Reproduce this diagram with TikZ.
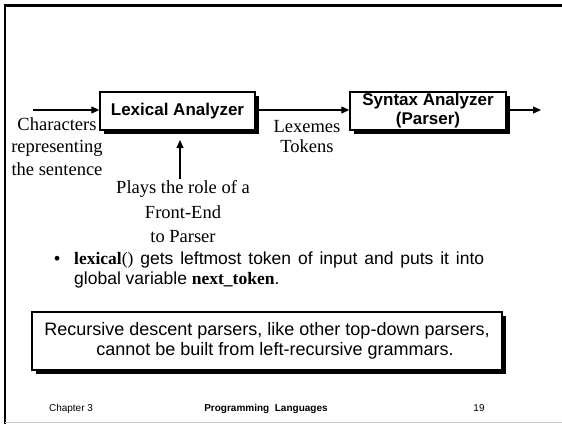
\documentclass[tikz,border=0pt]{standalone}
\usepackage{fontspec}
\setmainfont{Liberation Serif}
\setsansfont{Liberation Sans}
\usetikzlibrary{arrows.meta,shadows}
\begin{document}
\begin{tikzpicture}[x=1pt,y=-1pt,
  procbox/.style={draw,line width=1.4pt,fill=white,minimum height=38pt,inner sep=0pt,
    font=\sffamily\bfseries\fontsize{17}{19}\selectfont,align=center,
    drop shadow={shadow xshift=3.5pt,shadow yshift=-3.5pt,fill=black,opacity=1}},
  lbl/.style={font=\rmfamily\fontsize{18.5}{22.5}\selectfont,align=center,inner sep=0pt},
  flow/.style={line width=1.2pt,-{Triangle[length=8pt,width=7pt]}},
  btxt/.style={font=\sffamily\fontsize{17.5}{20}\selectfont,anchor=base west,inner sep=0pt},
  foot/.style={font=\sffamily\fontsize{10}{12}\selectfont,anchor=base,inner sep=0pt}]
\fill[white] (0,0) rectangle (562,424);
\useasboundingbox (0,0) rectangle (562,424);
% slide frame
\fill[black] (3.8,4.2) rectangle (562,6.8);
\fill[black] (3.8,4.2) rectangle (6.4,424);
\draw[gray!40,line width=1pt] (5,422) -- (562,422);

\node[procbox,minimum width=155pt] (lex) at (177.5,111) {Lexical Analyzer};
\node[procbox,minimum width=156pt] (syn) at (428,111) {Syntax Analyzer\\(Parser)};

\coordinate (in) at (33,110);
\coordinate (out) at (541,110);
\coordinate (up) at (180,140);

\draw[flow] (in) -- (lex.west |- in);
\draw[flow] (lex.east |- in) -- (syn.west |- in);
\draw[flow] (syn.east |- out) -- (out);

\node[lbl] (chars) at (57,146.5) {Characters\\representing\\the sentence};
\node[lbl,font=\rmfamily\fontsize{18.5}{20}\selectfont] (lexemes) at (307,137) {Lexemes\\Tokens};
\node[lbl,font=\rmfamily\fontsize{18.5}{24.5}\selectfont] (plays) at (183,212) {Plays the role of a\\Front-End\\to Parser};
\draw[flow] (plays.north -| up) ++(0,-2) -- (up);

\node[btxt] (bul) at (54,264) {\textbullet};
\node[btxt] (l1) at (74,264) {\makebox[410pt][s]{{\rmfamily\bfseries lexical}{\rmfamily()} gets leftmost token of input and puts it into}};
\node[btxt] (l2) at (74,284.5) {global variable {\rmfamily\bfseries next\_token}.};

\node[draw,line width=1.4pt,fill=white,minimum width=470pt,minimum height=58pt,
  drop shadow={shadow xshift=3.5pt,shadow yshift=-3.5pt,fill=black,opacity=1},
  font=\sffamily\fontsize{18}{20}\selectfont,align=center] (note) at (267,341)
  {Recursive descent parsers, like other top-down parsers,\\\hspace*{16pt}cannot be built from left-recursive grammars.};

\node[foot] (ch) at (71,411) {Chapter 3};
\node[foot,font=\sffamily\bfseries\fontsize{10}{12}\selectfont] (pl) at (266,411) {Programming\ \ Languages};
\node[foot] (pg) at (479,411) {19};
\end{tikzpicture}
\end{document}
